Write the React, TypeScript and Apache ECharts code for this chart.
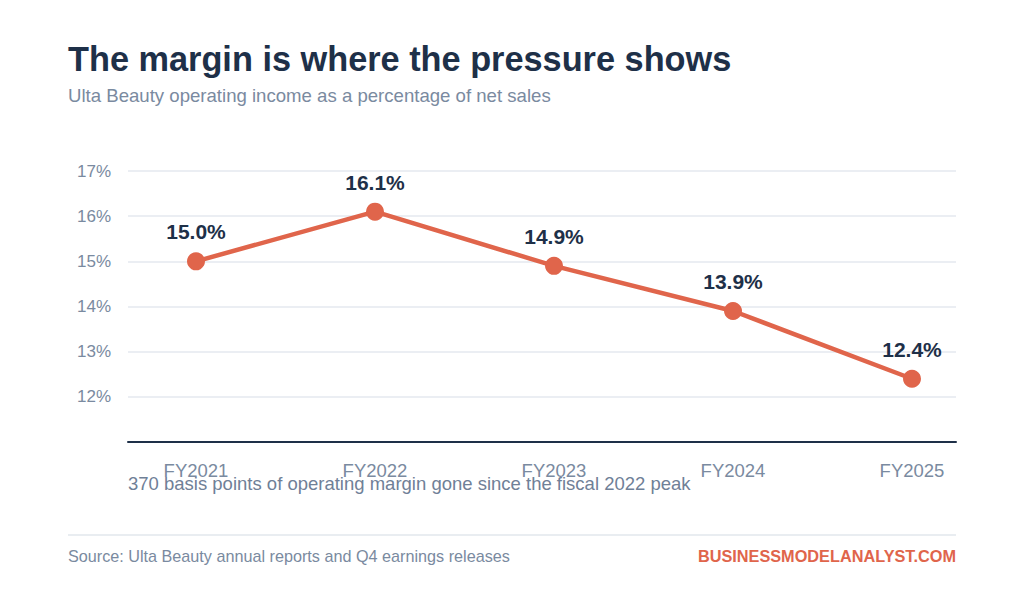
import React, { useEffect, useRef } from "react";
import * as echarts from "echarts";

const categories = ["FY2021", "FY2022", "FY2023", "FY2024", "FY2025"];
const marginValues = [15.0, 16.1, 14.9, 13.9, 12.4];
const yTicks = [11, 12, 13, 14, 15, 16, 17];

const TITLE = "The margin is where the pressure shows";
const SUBTITLE = "Ulta Beauty operating income as a percentage of net sales";
const NOTE = "370 basis points of operating margin gone since the fiscal 2022 peak";
const SOURCE = "Source: Ulta Beauty annual reports and Q4 earnings releases";
const BRAND = "BUSINESSMODELANALYST.COM";

const NAVY = "#1e3048";
const GRAY = "#7a8aa0";
const ACCENT = "#e0654b";
const FONT = "Liberation Sans, Arial, sans-serif";

export default function App() {
  const ref = useRef<HTMLDivElement>(null);

  useEffect(() => {
    if (!ref.current) return;
    const chart = echarts.init(ref.current, undefined, { renderer: "svg" });
    const yMin = yTicks[0];
    const yMax = yTicks[yTicks.length - 1];
    chart.setOption({
      animation: false,
      backgroundColor: "#ffffff",
      textStyle: { fontFamily: FONT },
      grid: [
        { left: 128, right: 68, top: 171, height: 271 },
        { left: 196, right: 112, top: 171, height: 271 },
      ],
      xAxis: [
        {
          type: "value",
          gridIndex: 0,
          min: 0,
          max: 1,
          axisLine: { show: true, onZero: false, lineStyle: { color: NAVY, width: 2 } },
          axisTick: { show: false },
          axisLabel: { show: false },
          splitLine: { show: false },
        },
        {
          type: "category",
          gridIndex: 1,
          data: categories,
          boundaryGap: false,
          axisLine: { show: false },
          axisTick: { show: false },
          axisLabel: { color: GRAY, fontSize: 18.5, margin: 19, fontFamily: FONT },
        },
      ],
      yAxis: [
        {
          type: "value",
          gridIndex: 0,
          min: yMin,
          max: yMax,
          interval: 1,
          axisLine: { show: false },
          axisTick: { show: false },
          axisLabel: {
            color: GRAY,
            fontSize: 17,
            margin: 17,
            fontFamily: FONT,
            formatter: (v: number) => (v === yMin ? "" : `${v}%`),
          },
          splitLine: { lineStyle: { color: "#e5e9ef", width: 1.5 } },
        },
        {
          type: "value",
          gridIndex: 1,
          min: yMin,
          max: yMax,
          interval: 1,
          show: false,
        },
      ],
      series: [
        {
          type: "line",
          xAxisIndex: 1,
          yAxisIndex: 1,
          data: marginValues,
          symbol: "circle",
          symbolSize: 18,
          lineStyle: { color: ACCENT, width: 4.5 },
          itemStyle: { color: ACCENT },
          label: {
            show: true,
            position: "top",
            distance: 10,
            color: NAVY,
            fontSize: 21,
            fontWeight: "bold",
            fontFamily: FONT,
            formatter: (p: any) => `${Number(p.value).toFixed(1)}%`,
          },
        },
      ],
      graphic: [
        {
          type: "text",
          left: 68,
          top: 42,
          style: { text: TITLE, fill: NAVY, font: `bold 34.3px ${FONT}` },
        },
        {
          type: "text",
          left: 68,
          top: 86,
          style: { text: SUBTITLE, fill: GRAY, font: `18.6px ${FONT}` },
        },
        {
          type: "text",
          left: 128,
          top: 474,
          style: { text: NOTE, fill: "#6f8097", font: `18.5px ${FONT}` },
        },
        {
          type: "line",
          shape: { x1: 68, y1: 535, x2: 956, y2: 535 },
          style: { stroke: "#e2e7ed", lineWidth: 1.5 },
        },
        {
          type: "text",
          left: 68,
          top: 548,
          style: { text: SOURCE, fill: GRAY, font: `16.2px ${FONT}` },
        },
        {
          type: "text",
          right: 68,
          top: 548,
          style: { text: BRAND, fill: ACCENT, font: `bold 16.3px ${FONT}` },
        },
      ],
    });
    return () => chart.dispose();
  }, []);

  return (
    <div
      ref={ref}
      style={{ position: "fixed", left: 0, top: 0, width: 1024, height: 597, background: "#fff" }}
    />
  );
}
